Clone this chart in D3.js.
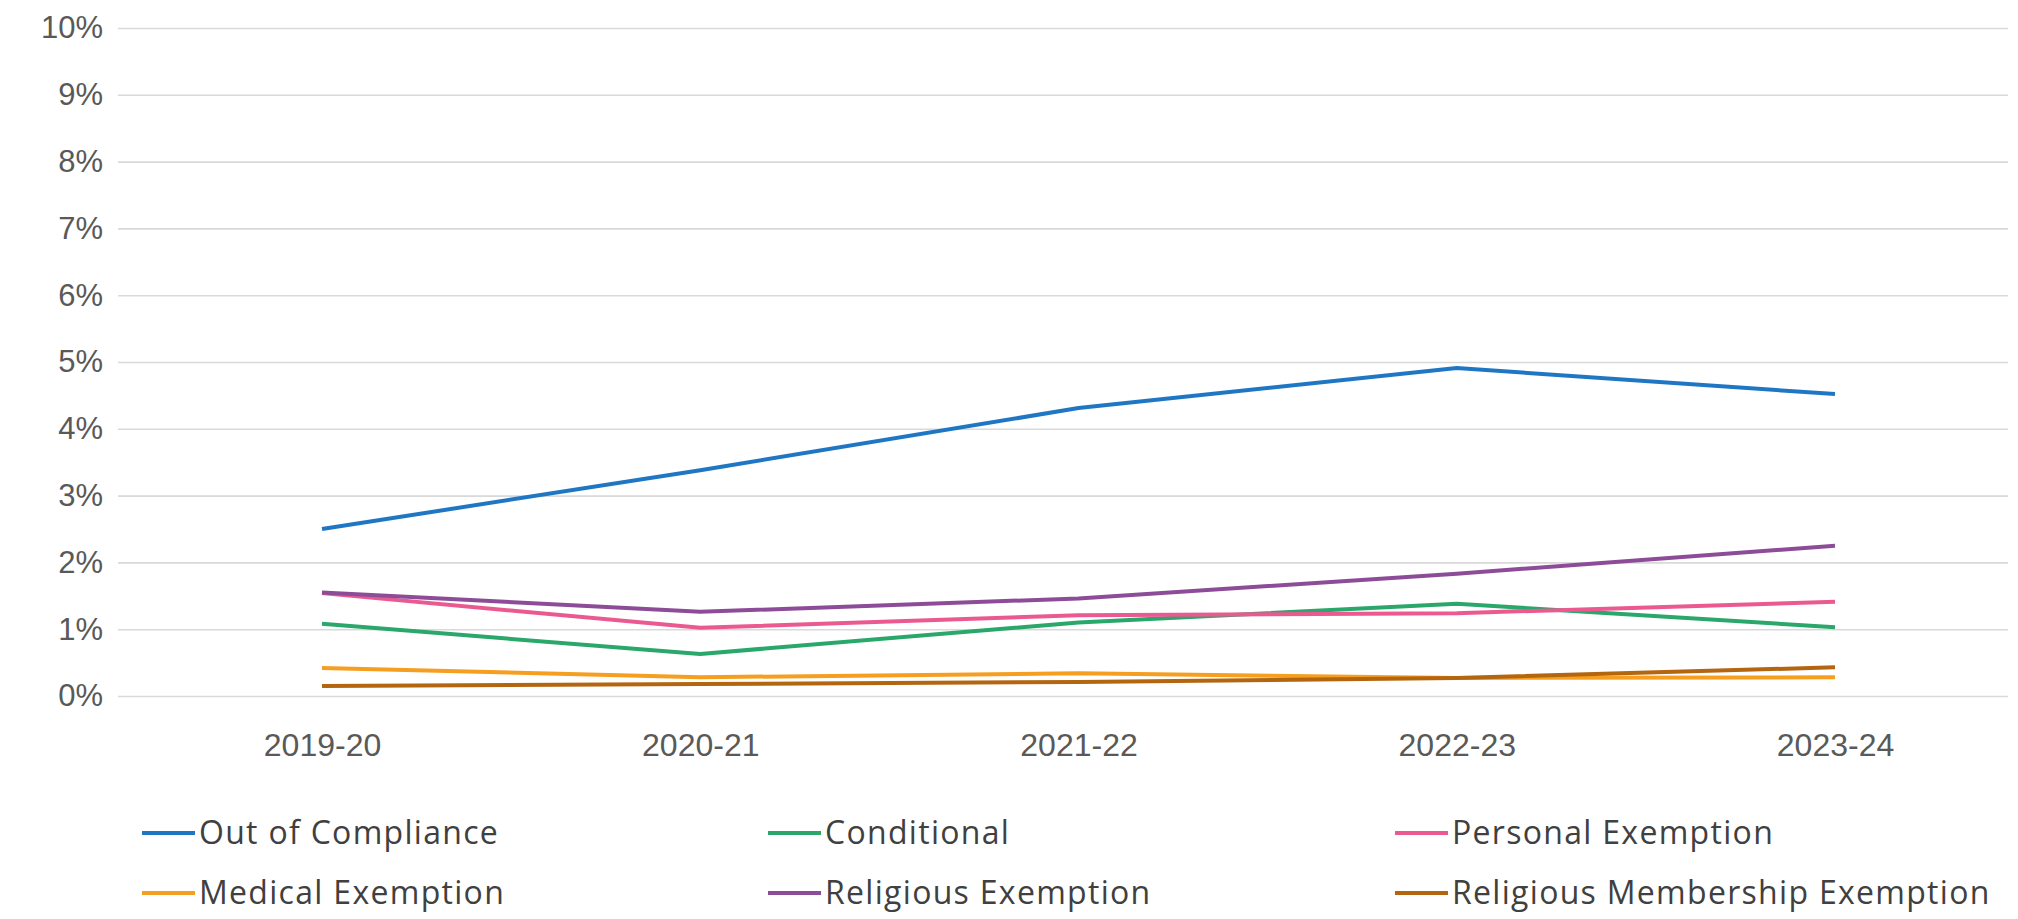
<!DOCTYPE html>
<html>
<head>
<meta charset="utf-8">
<script src="https://cdn.jsdelivr.net/npm/d3@7/dist/d3.min.js"></script>
<style>
  html, body { margin: 0; padding: 0; background: #ffffff; }
  svg { display: block; }
  .tick text { font-family: "Liberation Sans", Arial, sans-serif; fill: #595959; }
  .legend text { font-family: "Open Sans", "Noto Sans", sans-serif; fill: #404040; }
</style>
</head>
<body>
<svg id="chart" width="2018" height="919"></svg>
<script>
// School years on the category axis
const years = ["2019-20", "2020-21", "2021-22", "2022-23", "2023-24"];

// Percent of students in each status, by school year
const outOfCompliance   = [2.50, 3.38, 4.31, 4.91, 4.52];
const conditional       = [1.08, 0.63, 1.10, 1.38, 1.03];
const personalExemption = [1.54, 1.02, 1.21, 1.24, 1.41];
const medicalExemption  = [0.42, 0.28, 0.34, 0.27, 0.28];
const religiousExemption = [1.55, 1.26, 1.46, 1.83, 2.25];
const religiousMembershipExemption = [0.15, 0.18, 0.21, 0.27, 0.43];

// Value axis ticks (percent)
const yTicks = [0, 1, 2, 3, 4, 5, 6, 7, 8, 9, 10];

const seriesNames = ["Out of Compliance", "Conditional", "Personal Exemption",
                     "Medical Exemption", "Religious Exemption", "Religious Membership Exemption"];
const seriesValues = [outOfCompliance, conditional, personalExemption,
                      medicalExemption, religiousExemption, religiousMembershipExemption];
const seriesColors = ["#1f77c4", "#2aa76a", "#ea5a90", "#f59e20", "#8c4c98", "#b4650f"];

// Drawing order: later series sit on top
const drawOrder = [0, 1, 2, 4, 3, 5];

const svg = d3.select("#chart");

const plot = { left: 118, right: 2008, top: 28, bottom: 696 };

const x = d3.scalePoint().domain(years).range([322, 1835]);
const y = d3.scaleLinear().domain([0, 10]).range([plot.bottom, plot.top]);

// Horizontal gridlines with percent labels
const yAxis = svg.append("g")
  .attr("transform", `translate(${plot.left},0)`)
  .call(d3.axisLeft(y)
    .tickValues(yTicks)
    .tickSize(-(plot.right - plot.left))
    .tickPadding(15)
    .tickFormat(d => d + "%"));
yAxis.select(".domain").remove();
yAxis.selectAll(".tick line").attr("stroke", "#d9d9d9").attr("stroke-width", 1.6);
yAxis.selectAll(".tick text").attr("font-size", 31);

// Category labels
const xAxis = svg.append("g")
  .attr("transform", `translate(0,${plot.bottom})`)
  .call(d3.axisBottom(x).tickSize(0).tickPadding(37));
xAxis.select(".domain").remove();
xAxis.selectAll(".tick text").attr("font-size", 32);

// Series lines
const line = d3.line()
  .x((d, i) => x(years[i]))
  .y(d => y(d));

svg.append("g")
  .selectAll("path")
  .data(drawOrder)
  .join("path")
  .attr("d", k => line(seriesValues[k]))
  .attr("fill", "none")
  .attr("stroke", k => seriesColors[k])
  .attr("stroke-width", 4)
  .attr("stroke-linejoin", "round");

// Legend: three columns, two rows
const legendCols = [142, 768, 1395];
const legendRows = [833, 893];
const legend = svg.append("g").attr("class", "legend");
seriesNames.forEach((name, i) => {
  const cx = legendCols[i % 3];
  const cy = legendRows[Math.floor(i / 3)];
  const g = legend.append("g").attr("transform", `translate(${cx},${cy})`);
  g.append("line")
    .attr("x1", 0).attr("x2", 53)
    .attr("y1", 0).attr("y2", 0)
    .attr("stroke", seriesColors[i])
    .attr("stroke-width", 4);
  g.append("text")
    .attr("x", 57)
    .attr("y", 0)
    .attr("dy", "0.35em")
    .attr("font-size", 32)
    .attr("letter-spacing", 1.3)
    .text(name);
});
</script>
</body>
</html>
